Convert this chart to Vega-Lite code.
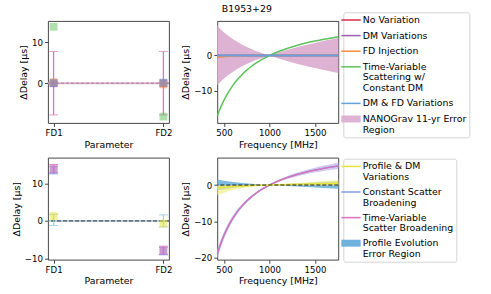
{
  "$schema": "https://vega.github.io/schema/vega-lite/v6.json",
  "padding": {"left": 10, "top": 3, "right": 2, "bottom": 2},
  "autosize": {"type": "pad"},
  "config": {
    "font": "DejaVu Sans",
    "view": {"stroke": "#333", "strokeWidth": 0.9},
    "axis": {"grid": false, "domain": false, "tickColor": "#333", "tickSize": 3.5, "tickWidth": 0.9, "labelFontSize": 8.6, "labelColor": "#000", "labelPadding": 2, "titleFontSize": 9.4, "titleFontWeight": "normal", "titleColor": "#000", "titlePadding": 3},
    "legend": {"labelFontSize": 9.4, "labelColor": "#000", "symbolSize": 372, "symbolStrokeWidth": 1.5, "symbolType": "stroke", "rowPadding": 4.6, "labelOffset": 7, "padding": 3, "strokeColor": "#d4d4d4", "cornerRadius": 2, "fillColor": "#ffffff", "symbolOpacity": 1, "labelLimit": 200}
  },
  "columns": 2,
  "bounds": "flush",
  "spacing": {"row": 34.7, "column": 48.3},
  "resolve": {"scale": {"color": "independent"}, "legend": {"color": "independent"}},
  "datasets": {
    "zero": [{"z": 0}],
    "err_top": [
      {"param": "FD1", "lo": -7.7, "hi": 7.7},
      {"param": "FD2", "lo": -7.7, "hi": 7.7}
    ],
    "pts_top": [
      {"param": "FD1", "series": "No Variation", "d": 0},
      {"param": "FD1", "series": "DM Variations", "d": 0},
      {"param": "FD1", "series": "FD Injection", "d": 0.25},
      {"param": "FD1", "series": "DM & FD Variations", "d": 0},
      {"param": "FD1", "series": "Time-Variable Scattering w/ Constant DM", "d": 13.7},
      {"param": "FD2", "series": "No Variation", "d": 0},
      {"param": "FD2", "series": "DM Variations", "d": 0},
      {"param": "FD2", "series": "FD Injection", "d": -0.3},
      {"param": "FD2", "series": "DM & FD Variations", "d": 0.15},
      {"param": "FD2", "series": "Time-Variable Scattering w/ Constant DM", "d": -8.1}
    ],
    "band_top": [
      {"f": 426, "lo": -8.3, "hi": 8.6, "series": "NANOGrav 11-yr Error Region"},
      {"f": 450, "lo": -7.8, "hi": 7.8, "series": "NANOGrav 11-yr Error Region"},
      {"f": 475, "lo": -7.15, "hi": 7.15, "series": "NANOGrav 11-yr Error Region"},
      {"f": 500, "lo": -6.55, "hi": 6.55, "series": "NANOGrav 11-yr Error Region"},
      {"f": 550, "lo": -5.5, "hi": 5.5, "series": "NANOGrav 11-yr Error Region"},
      {"f": 600, "lo": -4.6, "hi": 4.6, "series": "NANOGrav 11-yr Error Region"},
      {"f": 650, "lo": -3.8, "hi": 3.8, "series": "NANOGrav 11-yr Error Region"},
      {"f": 700, "lo": -3.05, "hi": 3.05, "series": "NANOGrav 11-yr Error Region"},
      {"f": 750, "lo": -2.4, "hi": 2.4, "series": "NANOGrav 11-yr Error Region"},
      {"f": 800, "lo": -1.85, "hi": 1.85, "series": "NANOGrav 11-yr Error Region"},
      {"f": 850, "lo": -1.3, "hi": 1.3, "series": "NANOGrav 11-yr Error Region"},
      {"f": 900, "lo": -0.85, "hi": 0.85, "series": "NANOGrav 11-yr Error Region"},
      {"f": 950, "lo": -0.4, "hi": 0.4, "series": "NANOGrav 11-yr Error Region"},
      {"f": 1000, "lo": 0, "hi": 0, "series": "NANOGrav 11-yr Error Region"},
      {"f": 1100, "lo": -0.86, "hi": 0.86, "series": "NANOGrav 11-yr Error Region"},
      {"f": 1200, "lo": -1.63, "hi": 1.63, "series": "NANOGrav 11-yr Error Region"},
      {"f": 1300, "lo": -2.33, "hi": 2.33, "series": "NANOGrav 11-yr Error Region"},
      {"f": 1400, "lo": -2.98, "hi": 2.98, "series": "NANOGrav 11-yr Error Region"},
      {"f": 1500, "lo": -3.58, "hi": 3.58, "series": "NANOGrav 11-yr Error Region"},
      {"f": 1600, "lo": -4.15, "hi": 4.15, "series": "NANOGrav 11-yr Error Region"},
      {"f": 1700, "lo": -4.7, "hi": 4.7, "series": "NANOGrav 11-yr Error Region"},
      {"f": 1757, "lo": -5.0, "hi": 5.0, "series": "NANOGrav 11-yr Error Region"}
    ],
    "lines_top": [
      {"f": 426, "series": "No Variation", "d": 0},
      {"f": 1757, "series": "No Variation", "d": 0},
      {"f": 426, "series": "DM Variations", "d": 0},
      {"f": 1757, "series": "DM Variations", "d": 0},
      {"f": 426, "series": "FD Injection", "d": -0.5},
      {"f": 450, "series": "FD Injection", "d": -0.44},
      {"f": 500, "series": "FD Injection", "d": -0.32},
      {"f": 550, "series": "FD Injection", "d": -0.22},
      {"f": 600, "series": "FD Injection", "d": -0.15},
      {"f": 700, "series": "FD Injection", "d": -0.06},
      {"f": 800, "series": "FD Injection", "d": -0.02},
      {"f": 900, "series": "FD Injection", "d": 0},
      {"f": 1757, "series": "FD Injection", "d": 0},
      {"f": 426, "series": "Time-Variable Scattering w/ Constant DM", "d": -17.2},
      {"f": 450, "series": "Time-Variable Scattering w/ Constant DM", "d": -15.57},
      {"f": 475, "series": "Time-Variable Scattering w/ Constant DM", "d": -14.05},
      {"f": 500, "series": "Time-Variable Scattering w/ Constant DM", "d": -12.7},
      {"f": 550, "series": "Time-Variable Scattering w/ Constant DM", "d": -10.36},
      {"f": 600, "series": "Time-Variable Scattering w/ Constant DM", "d": -8.42},
      {"f": 650, "series": "Time-Variable Scattering w/ Constant DM", "d": -6.78},
      {"f": 700, "series": "Time-Variable Scattering w/ Constant DM", "d": -5.39},
      {"f": 750, "series": "Time-Variable Scattering w/ Constant DM", "d": -4.18},
      {"f": 800, "series": "Time-Variable Scattering w/ Constant DM", "d": -3.13},
      {"f": 850, "series": "Time-Variable Scattering w/ Constant DM", "d": -2.21},
      {"f": 900, "series": "Time-Variable Scattering w/ Constant DM", "d": -1.39},
      {"f": 950, "series": "Time-Variable Scattering w/ Constant DM", "d": -0.66},
      {"f": 1000, "series": "Time-Variable Scattering w/ Constant DM", "d": 0},
      {"f": 1100, "series": "Time-Variable Scattering w/ Constant DM", "d": 1.13},
      {"f": 1200, "series": "Time-Variable Scattering w/ Constant DM", "d": 2.07},
      {"f": 1300, "series": "Time-Variable Scattering w/ Constant DM", "d": 2.86},
      {"f": 1400, "series": "Time-Variable Scattering w/ Constant DM", "d": 3.53},
      {"f": 1500, "series": "Time-Variable Scattering w/ Constant DM", "d": 4.11},
      {"f": 1600, "series": "Time-Variable Scattering w/ Constant DM", "d": 4.62},
      {"f": 1700, "series": "Time-Variable Scattering w/ Constant DM", "d": 5.07},
      {"f": 1757, "series": "Time-Variable Scattering w/ Constant DM", "d": 5.3},
      {"f": 426, "series": "DM & FD Variations", "d": 0},
      {"f": 1757, "series": "DM & FD Variations", "d": 0}
    ],
    "err_bot": [
      {"param": "FD1", "series": "Profile Evolution Error Region", "lo": -1.2, "hi": 1.75},
      {"param": "FD2", "series": "Profile Evolution Error Region", "lo": -1.6, "hi": 1.6},
      {"param": "FD1", "series": "Constant Scatter Broadening", "lo": 12.5, "hi": 14.5},
      {"param": "FD2", "series": "Constant Scatter Broadening", "lo": -9.0, "hi": -7.0},
      {"param": "FD1", "series": "Time-Variable Scatter Broadening", "lo": 12.8, "hi": 15.0},
      {"param": "FD2", "series": "Time-Variable Scatter Broadening", "lo": -8.9, "hi": -6.7}
    ],
    "pts_bot": [
      {"param": "FD1", "series": "Constant Scatter Broadening", "d": 13.5},
      {"param": "FD1", "series": "Time-Variable Scatter Broadening", "d": 13.9},
      {"param": "FD1", "series": "Profile & DM Variations", "d": 1.3},
      {"param": "FD2", "series": "Constant Scatter Broadening", "d": -8.0},
      {"param": "FD2", "series": "Time-Variable Scatter Broadening", "d": -7.8},
      {"param": "FD2", "series": "Profile & DM Variations", "d": -0.7}
    ],
    "evol_bot": [
      {"f": 426, "lo": -1.5, "hi": 1.5, "series": "Profile Evolution Error Region"},
      {"f": 500, "lo": -1.2, "hi": 1.2, "series": "Profile Evolution Error Region"},
      {"f": 600, "lo": -0.85, "hi": 0.85, "series": "Profile Evolution Error Region"},
      {"f": 700, "lo": -0.55, "hi": 0.55, "series": "Profile Evolution Error Region"},
      {"f": 800, "lo": -0.32, "hi": 0.32, "series": "Profile Evolution Error Region"},
      {"f": 900, "lo": -0.14, "hi": 0.14, "series": "Profile Evolution Error Region"},
      {"f": 1000, "lo": 0, "hi": 0, "series": "Profile Evolution Error Region"},
      {"f": 1200, "lo": -0.3, "hi": 0.3, "series": "Profile Evolution Error Region"},
      {"f": 1400, "lo": -0.55, "hi": 0.55, "series": "Profile Evolution Error Region"},
      {"f": 1600, "lo": -0.8, "hi": 0.8, "series": "Profile Evolution Error Region"},
      {"f": 1757, "lo": -1.0, "hi": 1.0, "series": "Profile Evolution Error Region"}
    ],
    "yel_band": [
      {"f": 426, "lo": -2.8, "hi": -0.1},
      {"f": 500, "lo": -2.1, "hi": -0.07},
      {"f": 600, "lo": -1.4, "hi": -0.05},
      {"f": 700, "lo": -0.9, "hi": -0.03},
      {"f": 800, "lo": -0.5, "hi": -0.02},
      {"f": 900, "lo": -0.22, "hi": -0.01},
      {"f": 1000, "lo": 0, "hi": 0},
      {"f": 1200, "lo": -0.05, "hi": 0.35},
      {"f": 1400, "lo": -0.1, "hi": 0.7},
      {"f": 1600, "lo": -0.15, "hi": 1.1},
      {"f": 1757, "lo": -0.2, "hi": 1.4}
    ],
    "curve_band": [
      {"f": 426, "lo": -20.3, "hi": -17.7},
      {"f": 450, "lo": -18.3, "hi": -15.9},
      {"f": 475, "lo": -16.46, "hi": -14.26},
      {"f": 500, "lo": -14.8, "hi": -12.8},
      {"f": 550, "lo": -12.01, "hi": -10.31},
      {"f": 600, "lo": -9.7, "hi": -8.3},
      {"f": 650, "lo": -7.8, "hi": -6.6},
      {"f": 700, "lo": -6.18, "hi": -5.18},
      {"f": 750, "lo": -4.81, "hi": -3.97},
      {"f": 800, "lo": -3.62, "hi": -2.92},
      {"f": 850, "lo": -2.59, "hi": -1.99},
      {"f": 900, "lo": -1.68, "hi": -1.18},
      {"f": 950, "lo": -0.9, "hi": -0.46},
      {"f": 1000, "lo": -0.2, "hi": 0.2},
      {"f": 1100, "lo": 0.85, "hi": 1.45},
      {"f": 1200, "lo": 1.69, "hi": 2.49},
      {"f": 1300, "lo": 2.37, "hi": 3.37},
      {"f": 1400, "lo": 2.95, "hi": 4.11},
      {"f": 1500, "lo": 3.44, "hi": 4.76},
      {"f": 1600, "lo": 3.85, "hi": 5.33},
      {"f": 1700, "lo": 4.19, "hi": 5.83},
      {"f": 1757, "lo": 4.37, "hi": 6.09}
    ],
    "lines_bot": [
      {"f": 426, "series": "Constant Scatter Broadening", "d": -19.0},
      {"f": 450, "series": "Constant Scatter Broadening", "d": -17.1},
      {"f": 475, "series": "Constant Scatter Broadening", "d": -15.36},
      {"f": 500, "series": "Constant Scatter Broadening", "d": -13.8},
      {"f": 550, "series": "Constant Scatter Broadening", "d": -11.16},
      {"f": 600, "series": "Constant Scatter Broadening", "d": -9.0},
      {"f": 650, "series": "Constant Scatter Broadening", "d": -7.2},
      {"f": 700, "series": "Constant Scatter Broadening", "d": -5.68},
      {"f": 750, "series": "Constant Scatter Broadening", "d": -4.39},
      {"f": 800, "series": "Constant Scatter Broadening", "d": -3.27},
      {"f": 850, "series": "Constant Scatter Broadening", "d": -2.29},
      {"f": 900, "series": "Constant Scatter Broadening", "d": -1.43},
      {"f": 950, "series": "Constant Scatter Broadening", "d": -0.68},
      {"f": 1000, "series": "Constant Scatter Broadening", "d": 0},
      {"f": 1100, "series": "Constant Scatter Broadening", "d": 1.15},
      {"f": 1200, "series": "Constant Scatter Broadening", "d": 2.09},
      {"f": 1300, "series": "Constant Scatter Broadening", "d": 2.87},
      {"f": 1400, "series": "Constant Scatter Broadening", "d": 3.53},
      {"f": 1500, "series": "Constant Scatter Broadening", "d": 4.1},
      {"f": 1600, "series": "Constant Scatter Broadening", "d": 4.59},
      {"f": 1700, "series": "Constant Scatter Broadening", "d": 5.01},
      {"f": 1757, "series": "Constant Scatter Broadening", "d": 5.23},
      {"f": 426, "series": "Time-Variable Scatter Broadening", "d": -19.0},
      {"f": 450, "series": "Time-Variable Scatter Broadening", "d": -17.1},
      {"f": 475, "series": "Time-Variable Scatter Broadening", "d": -15.36},
      {"f": 500, "series": "Time-Variable Scatter Broadening", "d": -13.8},
      {"f": 550, "series": "Time-Variable Scatter Broadening", "d": -11.16},
      {"f": 600, "series": "Time-Variable Scatter Broadening", "d": -9.0},
      {"f": 650, "series": "Time-Variable Scatter Broadening", "d": -7.2},
      {"f": 700, "series": "Time-Variable Scatter Broadening", "d": -5.68},
      {"f": 750, "series": "Time-Variable Scatter Broadening", "d": -4.39},
      {"f": 800, "series": "Time-Variable Scatter Broadening", "d": -3.27},
      {"f": 850, "series": "Time-Variable Scatter Broadening", "d": -2.29},
      {"f": 900, "series": "Time-Variable Scatter Broadening", "d": -1.43},
      {"f": 950, "series": "Time-Variable Scatter Broadening", "d": -0.68},
      {"f": 1000, "series": "Time-Variable Scatter Broadening", "d": 0},
      {"f": 1100, "series": "Time-Variable Scatter Broadening", "d": 1.15},
      {"f": 1200, "series": "Time-Variable Scatter Broadening", "d": 2.09},
      {"f": 1300, "series": "Time-Variable Scatter Broadening", "d": 2.87},
      {"f": 1400, "series": "Time-Variable Scatter Broadening", "d": 3.53},
      {"f": 1500, "series": "Time-Variable Scatter Broadening", "d": 4.1},
      {"f": 1600, "series": "Time-Variable Scatter Broadening", "d": 4.59},
      {"f": 1700, "series": "Time-Variable Scatter Broadening", "d": 5.01},
      {"f": 1757, "series": "Time-Variable Scatter Broadening", "d": 5.23},
      {"f": 426, "series": "Profile & DM Variations", "d": -0.75},
      {"f": 500, "series": "Profile & DM Variations", "d": -0.58},
      {"f": 600, "series": "Profile & DM Variations", "d": -0.38},
      {"f": 700, "series": "Profile & DM Variations", "d": -0.24},
      {"f": 800, "series": "Profile & DM Variations", "d": -0.14},
      {"f": 900, "series": "Profile & DM Variations", "d": -0.06},
      {"f": 1000, "series": "Profile & DM Variations", "d": 0},
      {"f": 1200, "series": "Profile & DM Variations", "d": 0.12},
      {"f": 1400, "series": "Profile & DM Variations", "d": 0.24},
      {"f": 1600, "series": "Profile & DM Variations", "d": 0.36},
      {"f": 1757, "series": "Profile & DM Variations", "d": 0.45}
    ]
  },
  "concat": [
    {
      "width": 121, "height": 102,
      "layer": [
        {"data": {"name": "zero"}, "mark": {"type": "rule", "color": "#e4a8ce", "strokeWidth": 2},
         "encoding": {"y": {"field": "z", "type": "quantitative", "title": "ΔDelay [μs]", "scale": {"domain": [-9.66, 15.1], "nice": false, "zero": false}, "axis": {"values": [0, 10]}}}},
        {"data": {"name": "zero"}, "mark": {"type": "rule", "color": "#8c8c8c", "strokeWidth": 0.9, "strokeDash": [3, 2]},
         "encoding": {"y": {"field": "z", "type": "quantitative", "title": "ΔDelay [μs]"}}},
        {"data": {"name": "err_top"}, "mark": {"type": "rule", "color": "#d67bb4", "strokeWidth": 1.3},
         "encoding": {"x": {"field": "param", "type": "nominal", "title": "Parameter", "scale": {"type": "point", "domain": ["FD1", "FD2"], "padding": 0.051}, "axis": {"labelAngle": 0}},
                      "y": {"field": "lo", "type": "quantitative", "title": "ΔDelay [μs]"}, "y2": {"field": "hi"}}},
        {"data": {"name": "err_top"}, "mark": {"type": "tick", "color": "#d67bb4", "size": 9, "thickness": 1},
         "encoding": {"x": {"field": "param", "type": "nominal", "title": "Parameter"}, "y": {"field": "lo", "type": "quantitative", "title": "ΔDelay [μs]"}}},
        {"data": {"name": "err_top"}, "mark": {"type": "tick", "color": "#d67bb4", "size": 9, "thickness": 1},
         "encoding": {"x": {"field": "param", "type": "nominal", "title": "Parameter"}, "y": {"field": "hi", "type": "quantitative", "title": "ΔDelay [μs]"}}},
        {"data": {"name": "pts_top"}, "mark": {"type": "point", "shape": "square", "filled": true, "size": 60, "opacity": 0.5},
         "encoding": {"x": {"field": "param", "type": "nominal", "title": "Parameter"}, "y": {"field": "d", "type": "quantitative", "title": "ΔDelay [μs]"},
                      "color": {"field": "series", "type": "nominal", "legend": null,
                                "scale": {"domain": ["No Variation", "DM Variations", "FD Injection", "Time-Variable Scattering w/ Constant DM", "DM & FD Variations", "NANOGrav 11-yr Error Region"],
                                          "range": ["#e0284a", "#9c5fb5", "#fb8a3c", "#5cc15c", "#66a3dd", "#ddb2d2"]}}}}
      ]
    },
    {
      "width": 121, "height": 102,
      "title": {"text": "B1953+29", "fontSize": 9.4, "fontWeight": "normal", "color": "#000", "anchor": "middle", "frame": "group", "dx": -31, "offset": -2.5},
      "layer": [
        {"data": {"name": "band_top"}, "mark": {"type": "area", "opacity": 1},
         "encoding": {"x": {"field": "f", "type": "quantitative", "title": "Frequency [MHz]", "scale": {"domain": [426, 1757], "nice": false, "zero": false}, "axis": {"values": [500, 1000, 1500], "format": "d"}},
                      "y": {"field": "lo", "type": "quantitative", "title": "ΔDelay [μs]", "scale": {"domain": [-19.2, 9.8], "nice": false, "zero": false}, "axis": {"values": [-10, 0, 10]}},
                      "y2": {"field": "hi"},
                      "color": {"field": "series", "type": "nominal",
                                "scale": {"domain": ["No Variation", "DM Variations", "FD Injection", "Time-Variable Scattering w/ Constant DM", "DM & FD Variations", "NANOGrav 11-yr Error Region"],
                                          "range": ["#e0284a", "#9c5fb5", "#fb8a3c", "#5cc15c", "#66a3dd", "#ddb2d2"]},
                                "legend": {"title": null, "orient": "none", "legendX": 126, "legendY": -8.7,
                                           "labelExpr": "datum.label === 'Time-Variable Scattering w/ Constant DM' ? ['Time-Variable', 'Scattering w/', 'Constant DM'] : datum.label === 'NANOGrav 11-yr Error Region' ? ['NANOGrav 11-yr Error', 'Region'] : datum.label",
                                           "encode": {
                                             "symbols": {"update": {
                                               "shape": {"signal": "datum.value === 'NANOGrav 11-yr Error Region' ? 'M-1,-0.36H1V0.36H-1Z' : 'stroke'"},
                                               "fill": {"signal": "datum.value === 'NANOGrav 11-yr Error Region' ? '#ddb2d2' : 'transparent'"},
                                               "strokeWidth": {"signal": "datum.value === 'NANOGrav 11-yr Error Region' ? 0 : 1.5"},
                                               "opacity": {"value": 1}}},
                                             "labels": {"update": {"lineHeight": {"value": 10.5}}}}}}}},
        {"data": {"name": "lines_top"}, "transform": [{"filter": "datum.series !== 'DM & FD Variations'"}],
         "mark": {"type": "line", "strokeWidth": 1.5, "interpolate": "monotone"},
         "encoding": {"x": {"field": "f", "type": "quantitative", "title": "Frequency [MHz]"}, "y": {"field": "d", "type": "quantitative", "title": "ΔDelay [μs]"}, "color": {"field": "series", "type": "nominal"}}},
        {"data": {"name": "lines_top"}, "transform": [{"filter": "datum.series === 'DM & FD Variations'"}],
         "mark": {"type": "line", "strokeWidth": 2},
         "encoding": {"x": {"field": "f", "type": "quantitative", "title": "Frequency [MHz]"}, "y": {"field": "d", "type": "quantitative", "title": "ΔDelay [μs]"}, "color": {"field": "series", "type": "nominal"}}}
      ]
    },
    {
      "width": 121, "height": 102,
      "layer": [
        {"data": {"name": "zero"}, "mark": {"type": "rule", "color": "#9fc3dc", "strokeWidth": 1.5},
         "encoding": {"y": {"field": "z", "type": "quantitative", "title": "ΔDelay [μs]", "scale": {"domain": [-10.3, 16.8], "nice": false, "zero": false}, "axis": {"values": [-10, 0, 10]}}}},
        {"data": {"name": "zero"}, "mark": {"type": "rule", "color": "#333", "strokeWidth": 1, "strokeDash": [4, 2]},
         "encoding": {"y": {"field": "z", "type": "quantitative", "title": "ΔDelay [μs]"}}},
        {"data": {"name": "err_bot"}, "mark": {"type": "rule", "strokeWidth": 1.2, "opacity": 0.8},
         "encoding": {"x": {"field": "param", "type": "nominal", "title": "Parameter", "scale": {"type": "point", "domain": ["FD1", "FD2"], "padding": 0.051}, "axis": {"labelAngle": 0}},
                      "y": {"field": "lo", "type": "quantitative", "title": "ΔDelay [μs]"}, "y2": {"field": "hi"},
                      "color": {"field": "series", "type": "nominal", "legend": null,
                                "scale": {"domain": ["Profile & DM Variations", "Constant Scatter Broadening", "Time-Variable Scatter Broadening", "Profile Evolution Error Region"],
                                          "range": ["#e8e43a", "#7f9de6", "#dd70b7", "#93c6e2"]}}}},
        {"data": {"name": "err_bot"}, "mark": {"type": "tick", "size": 9, "thickness": 1, "opacity": 0.8},
         "encoding": {"x": {"field": "param", "type": "nominal", "title": "Parameter"}, "y": {"field": "lo", "type": "quantitative", "title": "ΔDelay [μs]"}, "color": {"field": "series", "type": "nominal"}}},
        {"data": {"name": "err_bot"}, "mark": {"type": "tick", "size": 9, "thickness": 1, "opacity": 0.8},
         "encoding": {"x": {"field": "param", "type": "nominal", "title": "Parameter"}, "y": {"field": "hi", "type": "quantitative", "title": "ΔDelay [μs]"}, "color": {"field": "series", "type": "nominal"}}},
        {"data": {"name": "pts_bot"}, "mark": {"type": "point", "shape": "square", "filled": true, "size": 60, "opacity": 0.55},
         "encoding": {"x": {"field": "param", "type": "nominal", "title": "Parameter"}, "y": {"field": "d", "type": "quantitative", "title": "ΔDelay [μs]"}, "color": {"field": "series", "type": "nominal"}}}
      ]
    },
    {
      "width": 121, "height": 102,
      "layer": [
        {"data": {"name": "evol_bot"}, "mark": {"type": "area", "opacity": 0.9},
         "encoding": {"x": {"field": "f", "type": "quantitative", "title": "Frequency [MHz]", "scale": {"domain": [426, 1757], "nice": false, "zero": false}, "axis": {"values": [500, 1000, 1500], "format": "d"}},
                      "y": {"field": "lo", "type": "quantitative", "title": "ΔDelay [μs]", "scale": {"domain": [-20.5, 7.5], "nice": false, "zero": false}, "axis": {"values": [-20, -10, 0]}},
                      "y2": {"field": "hi"},
                      "color": {"field": "series", "type": "nominal",
                                "scale": {"domain": ["Profile & DM Variations", "Constant Scatter Broadening", "Time-Variable Scatter Broadening", "Profile Evolution Error Region"],
                                          "range": ["#e8e43a", "#7f9de6", "#dd70b7", "#6fb3dc"]},
                                "legend": {"title": null, "orient": "none", "legendX": 126, "legendY": 1,
                                           "labelExpr": "datum.label === 'Profile & DM Variations' ? ['Profile & DM', 'Variations'] : datum.label === 'Constant Scatter Broadening' ? ['Constant Scatter', 'Broadening'] : datum.label === 'Time-Variable Scatter Broadening' ? ['Time-Variable', 'Scatter Broadening'] : ['Profile Evolution', 'Error Region']",
                                           "encode": {
                                             "symbols": {"update": {
                                               "shape": {"signal": "datum.value === 'Profile Evolution Error Region' ? 'M-1,-0.36H1V0.36H-1Z' : 'stroke'"},
                                               "fill": {"signal": "datum.value === 'Profile Evolution Error Region' ? '#9ecbe4' : 'transparent'"},
                                               "strokeWidth": {"signal": "datum.value === 'Profile Evolution Error Region' ? 0 : 1.5"},
                                               "opacity": {"value": 1}}},
                                             "labels": {"update": {"lineHeight": {"value": 10.5}}}}}}}},
        {"data": {"name": "yel_band"}, "mark": {"type": "area", "color": "#f3ef86", "opacity": 0.7, "interpolate": "monotone"},
         "encoding": {"x": {"field": "f", "type": "quantitative", "title": "Frequency [MHz]"}, "y": {"field": "lo", "type": "quantitative", "title": "ΔDelay [μs]"}, "y2": {"field": "hi"}}},
        {"data": {"name": "curve_band"}, "mark": {"type": "area", "color": "#c7b4ea", "opacity": 0.75, "interpolate": "monotone"},
         "encoding": {"x": {"field": "f", "type": "quantitative", "title": "Frequency [MHz]"}, "y": {"field": "lo", "type": "quantitative", "title": "ΔDelay [μs]"}, "y2": {"field": "hi"}}},
        {"data": {"name": "lines_bot"}, "transform": [{"filter": "datum.series === 'Constant Scatter Broadening'"}],
         "mark": {"type": "line", "strokeWidth": 1.5, "interpolate": "monotone"},
         "encoding": {"x": {"field": "f", "type": "quantitative", "title": "Frequency [MHz]"}, "y": {"field": "d", "type": "quantitative", "title": "ΔDelay [μs]"}, "color": {"field": "series", "type": "nominal"}}},
        {"data": {"name": "lines_bot"}, "transform": [{"filter": "datum.series === 'Time-Variable Scatter Broadening'"}],
         "mark": {"type": "line", "strokeWidth": 1.2, "interpolate": "monotone"},
         "encoding": {"x": {"field": "f", "type": "quantitative", "title": "Frequency [MHz]"}, "y": {"field": "d", "type": "quantitative", "title": "ΔDelay [μs]"}, "color": {"field": "series", "type": "nominal"}}},
        {"data": {"name": "lines_bot"}, "transform": [{"filter": "datum.series === 'Profile & DM Variations'"}],
         "mark": {"type": "line", "strokeWidth": 1.5, "interpolate": "monotone"},
         "encoding": {"x": {"field": "f", "type": "quantitative", "title": "Frequency [MHz]"}, "y": {"field": "d", "type": "quantitative", "title": "ΔDelay [μs]"}, "color": {"field": "series", "type": "nominal"}}},
        {"data": {"name": "zero"}, "mark": {"type": "rule", "color": "#222", "strokeWidth": 1, "strokeDash": [4, 2]},
         "encoding": {"y": {"field": "z", "type": "quantitative", "title": "ΔDelay [μs]"}}}
      ]
    }
  ]
}
